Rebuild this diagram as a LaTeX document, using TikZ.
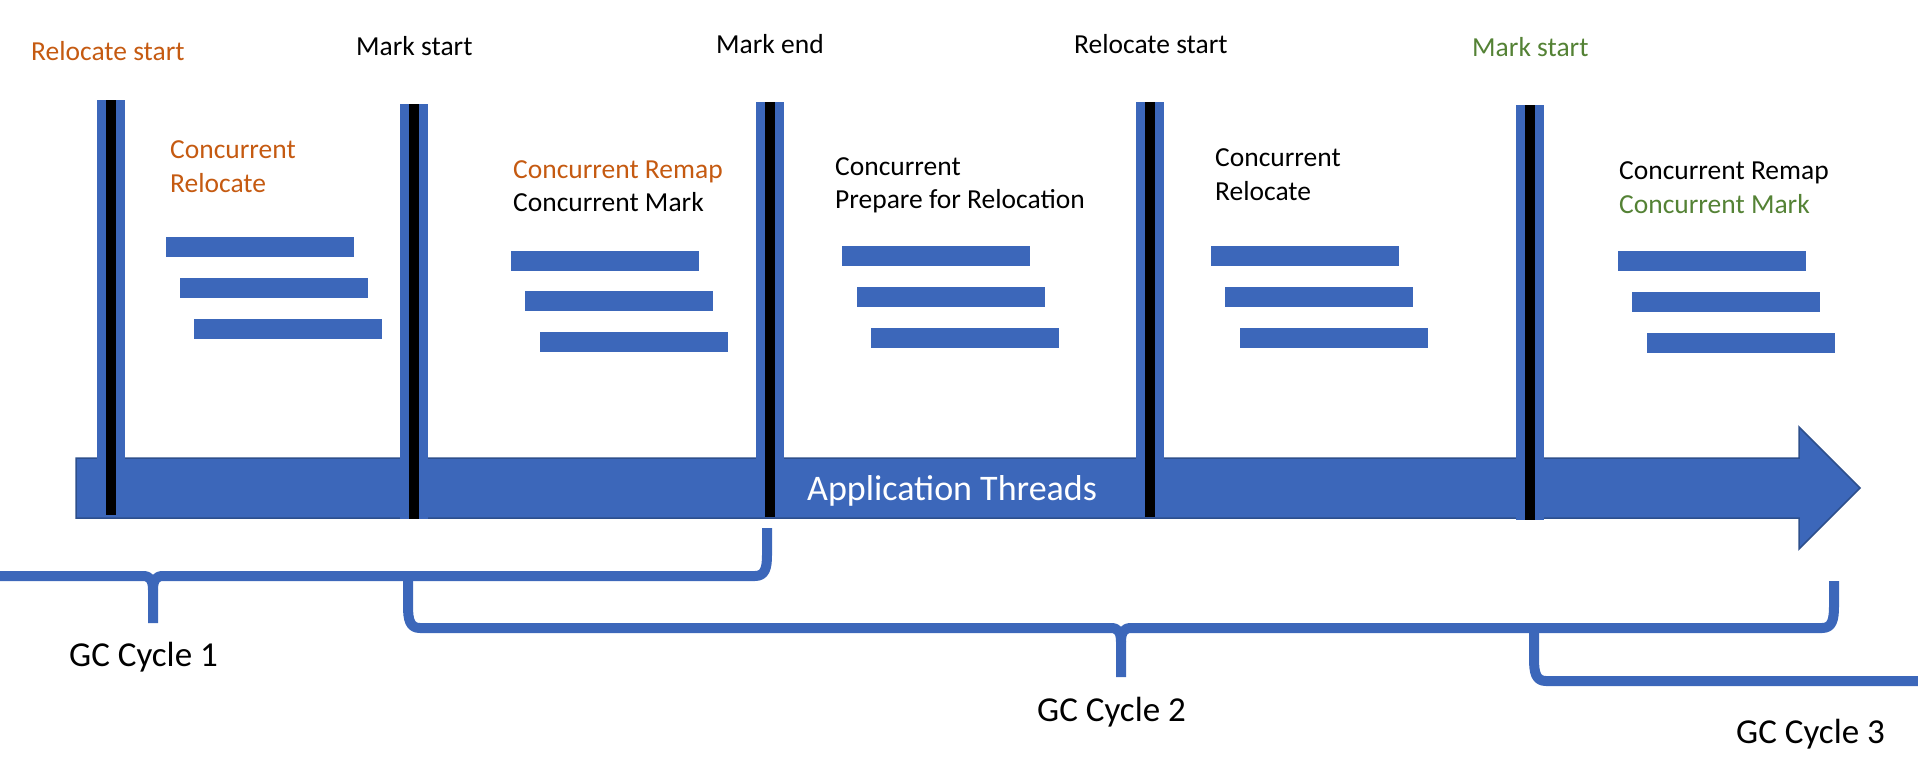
\documentclass[tikz,border=0pt]{standalone}
\usepackage{fontspec}
\setmainfont{Carlito}
\definecolor{zblue}{RGB}{60,103,186}
\definecolor{zedge}{RGB}{45,79,140}
\definecolor{zorange}{RGB}{197,90,17}
\definecolor{zgreen}{RGB}{84,130,53}
\begin{document}
\begin{tikzpicture}[x=1pt,y=-1pt,
  lbl/.style={inner sep=0pt, anchor=base west, font=\fontsize{27.5}{33}\selectfont},
  gclbl/.style={inner sep=0pt, anchor=base west, font=\fontsize{35}{42}\selectfont},
  thread/.style={fill=zblue},
  pauseouter/.style={fill=zblue},
  pauseinner/.style={fill=black},
  brace/.style={draw=zblue, line width=10pt, line join=round}]
\useasboundingbox (0,0) rectangle (1918,761);

% top event labels
\node[lbl, text=zorange] (ev1) at (31,60) {Relocate start};
\node[lbl] (ev2) at (356,55) {Mark start};
\node[lbl] (ev3) at (716,53) {Mark end};
\node[lbl] (ev4) at (1074,53) {Relocate start};
\node[lbl, text=zgreen] (ev5) at (1472,56) {Mark start};

% phase labels
\node[lbl, text=zorange] (p1a) at (170,158) {Concurrent};
\node[lbl, text=zorange] (p1b) at (170,192) {Relocate};
\node[lbl, text=zorange] (p2a) at (513,178) {Concurrent Remap};
\node[lbl] (p2b) at (513,211) {Concurrent Mark};
\node[lbl] (p3a) at (835,175) {Concurrent};
\node[lbl] (p3b) at (835,208) {Prepare for Relocation};
\node[lbl] (p4a) at (1215,166) {Concurrent};
\node[lbl] (p4b) at (1215,200) {Relocate};
\node[lbl] (p5a) at (1619,179) {Concurrent Remap};
\node[lbl, text=zgreen] (p5b) at (1619,213) {Concurrent Mark};

% GC thread bars
\foreach \x/\y in {166/237,180/278,194/319,
                   511/251,525/291,540/332,
                   842/246,857/287,871/328,
                   1211/246,1225/287,1240/328,
                   1618/251,1632/292,1647/333}
  \fill[thread] (\x,\y) rectangle ++(188,20);

% application threads arrow
\filldraw[fill=zblue, draw=zedge, line width=1.5pt]
  (76,458) -- (1799,458) -- (1799,427) -- (1860,488) -- (1799,549)
  -- (1799,518) -- (76,518) -- cycle;
\node[inner sep=0pt, anchor=base west, text=white, font=\fontsize{36}{43}\selectfont] (app) at (807,500) {Application Threads};

% pause markers
\foreach \x/\t/\b in {97/100/515, 400/104/519, 756/102/517, 1136/102/517, 1516/105/520}{
  \fill[pauseouter] (\x,\t) rectangle (\x+28,\b);
  \fill[pauseinner] (\x+9,\t) rectangle (\x+19,\b);
}

% GC cycle braces
\coordinate (b1l) at (-20,576);
\coordinate (b1tip) at (153,623);
\coordinate (b1r) at (767,528);
\draw[brace] (b1l) -- (143,576) .. controls (150,576) and (153,580) .. (153,590) -- (b1tip);
\draw[brace] (153,590) .. controls (153,580) and (156,576) .. (163,576) -- (755,576)
  .. controls (765,576) and (767,568) .. (767,555) -- (b1r);

\coordinate (b2l) at (408,581);
\coordinate (b2tip) at (1121,677);
\coordinate (b2r) at (1834,581);
\draw[brace] (b2l) -- (408,606) .. controls (408,620) and (410,628) .. (420,628) -- (1111,628)
  .. controls (1118,628) and (1121,632) .. (1121,642) -- (b2tip);
\draw[brace] (1121,642) .. controls (1121,632) and (1124,628) .. (1131,628) -- (1822,628)
  .. controls (1832,628) and (1834,620) .. (1834,606) -- (b2r);

\coordinate (b3l) at (1534,633);
\coordinate (b3r) at (1940,681);
\draw[brace] (b3l) -- (1534,659) .. controls (1534,673) and (1536,681) .. (1546,681) -- (b3r);

\node[gclbl] (gc1) at (69,666) {GC Cycle 1};
\node[gclbl] (gc2) at (1037,721) {GC Cycle 2};
\node[gclbl] (gc3) at (1736,743) {GC Cycle 3};
\end{tikzpicture}
\end{document}
